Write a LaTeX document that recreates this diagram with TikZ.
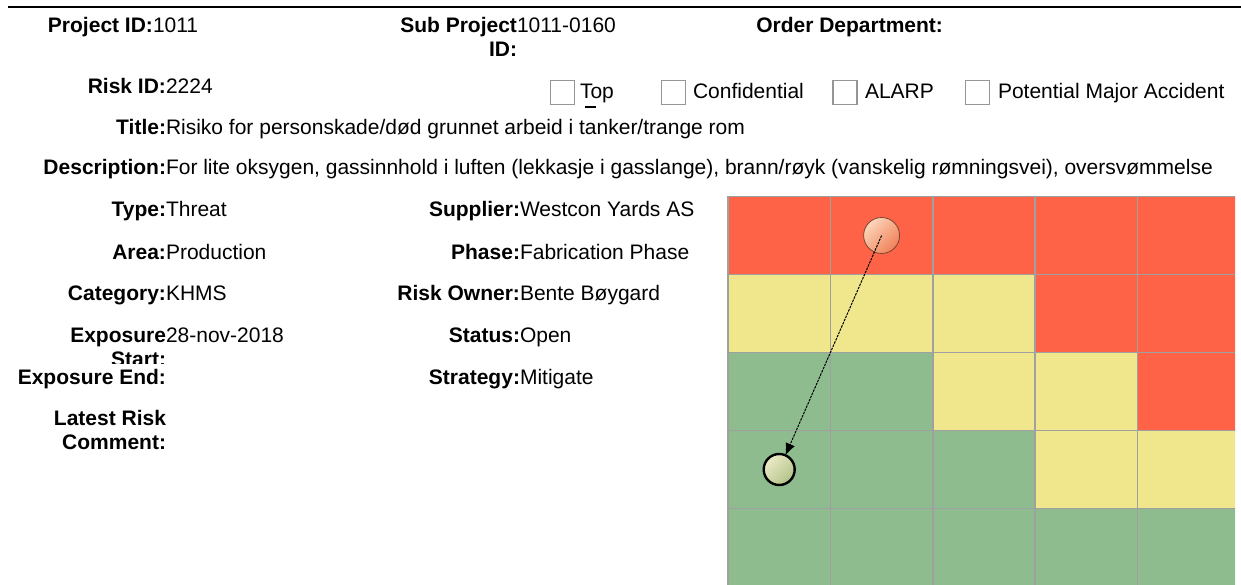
\documentclass[tikz,border=0pt]{standalone}
\usepackage{fontspec}
\setmainfont{Liberation Sans}
\definecolor{R}{RGB}{255,99,71}
\definecolor{Y}{RGB}{240,230,140}
\definecolor{G}{RGB}{143,188,143}
\definecolor{rim}{RGB}{160,160,160}
\definecolor{boxrim}{RGB}{150,150,150}
\definecolor{hiA}{RGB}{252,214,186}
\definecolor{hiB}{RGB}{240,128,88}
\definecolor{loA}{RGB}{238,234,200}
\definecolor{loB}{RGB}{176,194,136}
\usetikzlibrary{arrows.meta}
\usetikzlibrary{positioning}
\tikzstyle{base}=[x=1pt, y=-1pt, inner sep=0pt, outer sep=0pt]
\tikzstyle{lbl}=[anchor=base east, font=\bfseries]
\tikzstyle{val}=[anchor=base west]
\tikzstyle{chk}=[draw=boxrim, line width=1.8pt, fill=white, minimum size=24pt]
\tikzstyle{gridline}=[rim, line width=1.5pt]

\begin{document}
\begin{tikzpicture}[base]
    \fontsize{21}{24}\selectfont
    \useasboundingbox (0,0) rectangle (1241,585);
    \draw [black, line width=2.5pt] (8,7) -- (1241,7);

    % header rows
    \node [lbl] (projL) at (153,32.5) {Project ID:};
    \node [val] (projV) at (projL.base east) {1011};
    \node [lbl] (subL) at (517,32.5) {Sub Project};
    \node [lbl] (subL2) at (517,56.5) {ID:};
    \node [val] (subV) at (subL.base east) {1011-0160};
    \node [lbl] (orderL) at (943,32.5) {Order Department:};
    \node [lbl] (riskL) at (166,94) {Risk ID:};
    \node [val] (riskV) at (riskL.base east) {2224};

    % flags
    \node [chk] (topBox) at (562.5,92.5) {};
    \node [val] (topT) at (580,99) {Top};
    \draw [black, line width=1.2pt] (585,107) -- (596,107);
    \node [chk] (confBox) at (673.5,92.5) {};
    \node [val] (confT) at (693,99) {Confidential};
    \node [chk] (alarpBox) at (845,92.5) {};
    \node [val] (alarpT) at (865,99) {ALARP};
    \node [chk] (pmaBox) at (977.5,92.5) {};
    \node [val] (pmaT) at (998,99) {Potential Major Accident};

    \node [lbl] (titleL) at (166,134.5) {Title:};
    \node [val] (titleV) at (titleL.base east) {Risiko for personskade/død grunnet arbeid i tanker/trange rom};
    \node [lbl] (descL) at (166,175) {Description:};
    \node [val] (descV) at (descL.base east) {For lite oksygen, gassinnhold i luften (lekkasje i gasslange), brann/røyk (vanskelig rømningsvei), oversvømmelse};

    % left column
    \node [lbl] (typeL) at (166,217) {Type:};
    \node [val] (typeV) at (typeL.base east) {Threat};
    \node [lbl] (areaL) at (166,259) {Area:};
    \node [val] (areaV) at (areaL.base east) {Production};
    \node [lbl] (catL) at (166,300.5) {Category:};
    \node [val] (catV) at (catL.base east) {KHMS};
    \node [lbl] (expL) at (166,342.5) {Exposure};
    \node [val] (expV) at (expL.base east) {28-nov-2018};
    \begin{scope}
        \clip (0,345) rectangle (300,363);
        \node [lbl] (expL2) at (166,366.5) {Start:};
    \end{scope}
    \node [lbl] (endL) at (166,384) {Exposure End:};
    \node [lbl] (commL) at (166,425.5) {Latest Risk};
    \node [lbl] (commL2) at (166,449.5) {Comment:};

    % right column
    \node [lbl] (supL) at (520,217) {Supplier:};
    \node [val] (supV) at (supL.base east) {Westcon Yards AS};
    \node [lbl] (phaseL) at (520,259) {Phase:};
    \node [val] (phaseV) at (phaseL.base east) {Fabrication Phase};
    \node [lbl] (ownL) at (520,300.5) {Risk Owner:};
    \node [val] (ownV) at (ownL.base east) {Bente Bøygard};
    \node [lbl] (statL) at (520,342.5) {Status:};
    \node [val] (statV) at (statL.base east) {Open};
    \node [lbl] (stratL) at (520,384) {Strategy:};
    \node [val] (stratV) at (stratL.base east) {Mitigate};

    % risk matrix
    \begin{scope}
        \clip (727,195) rectangle (1235,585);
        \fill [R] (728,196.5) rectangle (728 + 5*102.4,274.5);
        \fill [Y] (728,274.5) rectangle (728 + 3*102.4,352.5);
        \fill [R] (728 + 3*102.4,274.5) rectangle (728 + 5*102.4,352.5);
        \fill [G] (728,352.5) rectangle (728 + 2*102.4,430.5);
        \fill [Y] (728 + 2*102.4,352.5) rectangle (728 + 4*102.4,430.5);
        \fill [R] (728 + 4*102.4,352.5) rectangle (728 + 5*102.4,430.5);
        \fill [G] (728,430.5) rectangle (728 + 3*102.4,508.5);
        \fill [Y] (728 + 3*102.4,430.5) rectangle (728 + 5*102.4,508.5);
        \fill [G] (728,508.5) rectangle (728 + 5*102.4,586.5);
        \draw [gridline] (728,196.5) -- (728,586.5);
        \draw [gridline] (728 + 1*102.4,196.5) -- (728 + 1*102.4,586.5);
        \draw [gridline] (728 + 2*102.4,196.5) -- (728 + 2*102.4,586.5);
        \draw [gridline] (728 + 3*102.4,196.5) -- (728 + 3*102.4,586.5);
        \draw [gridline] (728 + 4*102.4,196.5) -- (728 + 4*102.4,586.5);
        \draw [gridline] (728,196.5) -- (1241,196.5);
        \draw [gridline] (728,274.5) -- (1241,274.5);
        \draw [gridline] (728,352.5) -- (1241,352.5);
        \draw [gridline] (728,430.5) -- (1241,430.5);
        \draw [gridline] (728,508.5) -- (1241,508.5);
    \end{scope}

    % current and target risk
    \node [circle, minimum size=36pt, draw={rgb,255:red,120;green,70;blue,50}, line width=0.8pt,
           top color=hiA, bottom color=hiB, shading angle=45] (now) at (728 + 1.5*102.4,235.5) {};
    \node [circle, minimum size=31pt, draw=black, line width=2.4pt,
           top color=loA, bottom color=loB, shading angle=45] (goal) at (728 + 0.5*102.4,469.5) {};
    \draw [black, line width=1pt, dash pattern=on 2.5pt off 1pt, -{Latex[length=12pt,width=10pt]}] (now.center) -- (goal);
\end{tikzpicture}
\end{document}
